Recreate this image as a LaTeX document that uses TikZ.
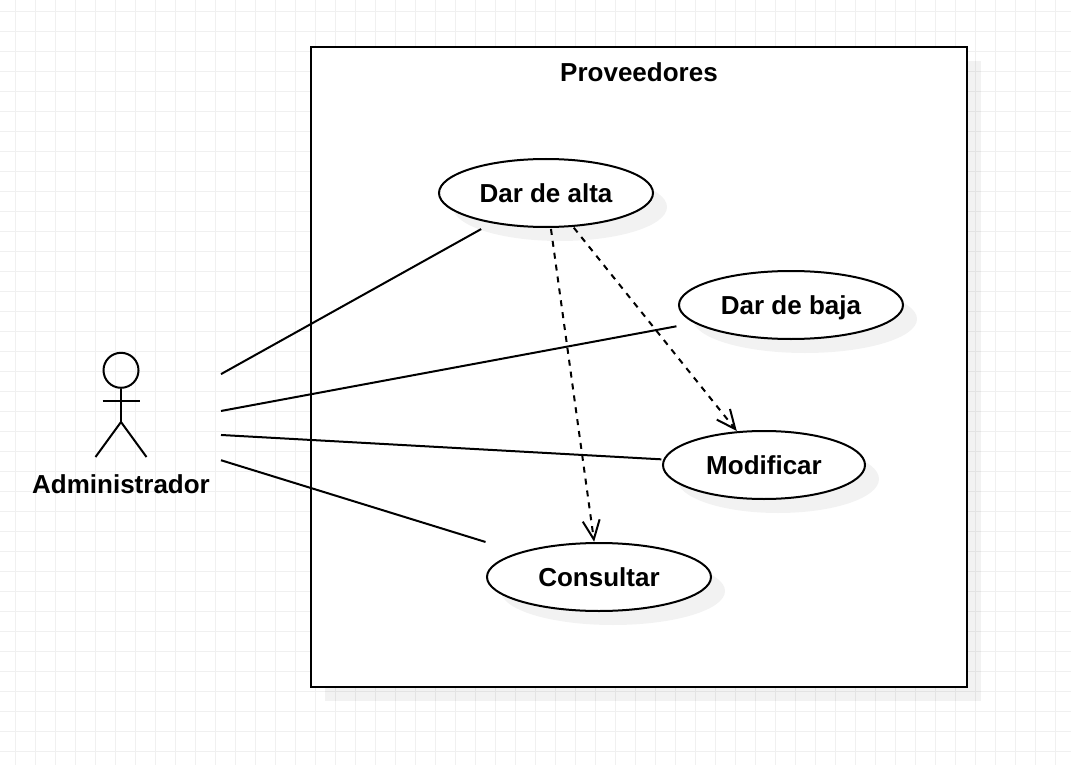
\documentclass[tikz,border=0pt]{standalone}
\usepackage{fontspec}
\setmainfont{Liberation Sans}
\usetikzlibrary{shapes.geometric,arrows.meta}
\definecolor{gridc}{HTML}{F0F0F0}
\tikzset{
  every node/.style={font=\fontsize{26}{30}\selectfont\bfseries,text=black},
  labeltext/.style={inner sep=0pt,text height=18.6pt,text depth=0pt},
  usecase/.style={ellipse,draw=black,line width=2pt,fill=white,inner sep=0pt,labeltext},
  shade blob/.style={ellipse,fill=black,fill opacity=0.05,inner sep=0pt},
  assoc/.style={draw=black,line width=2pt},
  dep/.style={draw=black,line width=2pt,dash pattern=on 6pt off 6pt,
    -{Straight Barb[length=19pt,width=17pt,line width=2pt]},shorten <=1pt,shorten >=0.3pt},
  limb/.style={draw=black,line width=2pt},
}
\begin{document}
\begin{tikzpicture}[x=1pt,y=-1pt]
\useasboundingbox (0,0) rectangle (1071,765);
% grid
\foreach \gx in {15.5,35.5,...,1071} \draw[gridc,line width=1pt] (\gx,0) -- (\gx,765);
\foreach \gy in {11.5,31.5,...,765} \draw[gridc,line width=1pt] (0,\gy) -- (1071,\gy);
% system boundary
\fill[black,opacity=0.05] (325,61) rectangle (981,701);
\draw[black,line width=2pt,fill=white] (311,47) rectangle (967,687);
\node[labeltext] (title) at (639,72) {Proveedores};
% shadows
\node[shade blob,minimum width=214pt,minimum height=68pt] at (560,207) {};
\node[shade blob,minimum width=224pt,minimum height=68pt] at (805,319) {};
\node[shade blob,minimum width=202pt,minimum height=68pt] at (778,479) {};
\node[shade blob,minimum width=224pt,minimum height=68pt] at (613,591) {};
% use cases
\node[usecase,minimum width=214pt,minimum height=68pt] (alta) at (546,193) {Dar de alta};
\node[usecase,minimum width=224pt,minimum height=68pt] (baja) at (791,305) {Dar de baja};
\node[usecase,minimum width=202pt,minimum height=68pt] (modif) at (764,465) {Modificar};
\node[usecase,minimum width=224pt,minimum height=68pt] (cons) at (599,577) {Consultar};
% actor
\node[circle,draw=black,line width=2pt,minimum size=35pt,inner sep=0pt] (head) at (121,370.3) {};
\coordinate (hip) at (121,422);
\coordinate (armL) at (102.5,401);
\coordinate (armR) at (139.5,401);
\coordinate (footL) at (95.5,457);
\coordinate (footR) at (146.5,457);
\draw[limb] (head.south) -- (hip);
\draw[limb] (armL) -- (armR);
\draw[limb] (footL) -- (hip) -- (footR);
\node[labeltext] (actorlabel) at (121,484) {Administrador};
\node[rectangle,minimum width=200pt,minimum height=120pt,inner sep=0pt,outer sep=0pt] (actor) at (121,429.5) {};
% associations
\draw[assoc,shorten >=12pt] (actor) -- (alta);
\draw[assoc,shorten >=18pt] (actor) -- (baja);
\draw[assoc,shorten >=2pt] (actor) -- (modif);
\draw[assoc,shorten >=35pt] (actor) -- (cons);
% dependencies
\draw[dep] (alta) -- (cons);
\draw[dep] (alta) -- (modif);
\end{tikzpicture}
\end{document}
